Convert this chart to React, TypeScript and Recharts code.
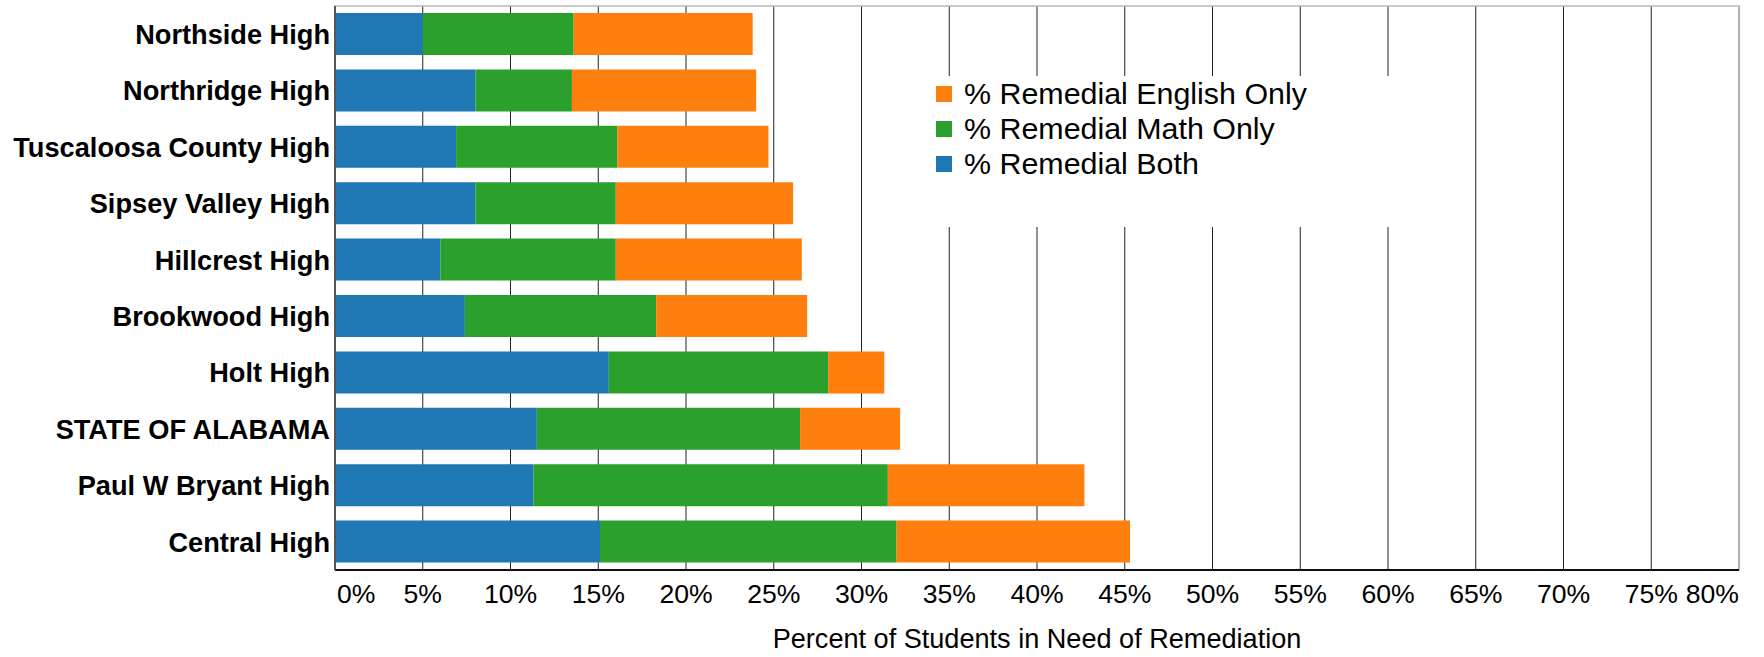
import React from "react";
import {
  BarChart,
  Bar,
  XAxis,
  YAxis,
  CartesianGrid,
  Legend,
  ReferenceArea,
  Label,
} from "recharts";

const schools = [
  "Northside High",
  "Northridge High",
  "Tuscaloosa County High",
  "Sipsey Valley High",
  "Hillcrest High",
  "Brookwood High",
  "Holt High",
  "STATE OF ALABAMA",
  "Paul W Bryant High",
  "Central High",
];
const bothVals = [5.0, 8.0, 6.9, 8.0, 6.0, 7.4, 15.6, 11.5, 11.3, 15.1];
const mathVals = [8.6, 5.5, 9.2, 8.0, 10.0, 10.9, 12.5, 15.0, 20.2, 16.9];
const englishVals = [10.2, 10.5, 8.6, 10.1, 10.6, 8.6, 3.2, 5.7, 11.2, 13.3];
const xTicks = [0, 5, 10, 15, 20, 25, 30, 35, 40, 45, 50, 55, 60, 65, 70, 75, 80];

const seriesNames = ["% Remedial Both", "% Remedial Math Only", "% Remedial English Only"];
const seriesColors = ["#1f77b4", "#2ca02c", "#ff7f0e"];
const legendOrder = ["% Remedial English Only", "% Remedial Math Only", "% Remedial Both"];

const data = schools.map((s, i) => ({
  school: s,
  both: bothVals[i],
  math: mathVals[i],
  english: englishVals[i],
}));

const FONT = "'Liberation Sans', Arial, Helvetica, sans-serif";

const XTick = (props: any) => {
  const { x, y, payload } = props;
  const v = payload.value;
  let anchor: "start" | "middle" | "end" = "middle";
  let dx = 0;
  if (v === xTicks[0]) {
    anchor = "start";
    dx = 2;
  } else if (v === xTicks[xTicks.length - 1]) {
    anchor = "end";
  }
  return (
    <text x={x + dx} y={y + 33} textAnchor={anchor} fontFamily={FONT} fontSize={26.6} fill="#000">
      {`${v}%`}
    </text>
  );
};

const YTick = (props: any) => {
  const { x, y, payload } = props;
  return (
    <text x={x - 5} y={y} dy="0.36em" textAnchor="end" fontFamily={FONT} fontSize={27.2} fontWeight="bold" fill="#000">
      {payload.value}
    </text>
  );
};

const LegendContent = (props: any) => {
  const payload = (props.payload || [])
    .slice()
    .sort((a: any, b: any) => legendOrder.indexOf(a.value) - legendOrder.indexOf(b.value));
  return (
    <div
      style={{
        background: "#fff",
        width: 500,
        height: 151,
        boxSizing: "border-box",
        paddingTop: 0,
        paddingLeft: 16,
        fontFamily: FONT,
      }}
    >
      {payload.map((p: any) => (
        <div key={p.value} style={{ display: "flex", alignItems: "center", height: 35 }}>
          <span style={{ display: "inline-block", width: 16, height: 16, background: p.color, marginRight: 12 }} />
          <span style={{ fontSize: 30.4, color: "#000", lineHeight: "35px" }}>{p.value}</span>
        </div>
      ))}
    </div>
  );
};

export default function App() {
  return (
    <div style={{ position: "absolute", left: 0, top: 0, background: "#fff" }}>
      <BarChart
        width={1764}
        height={657}
        data={data}
        layout="vertical"
        margin={{ top: 6, right: 25, left: 0, bottom: 0 }}
        barCategoryGap="12.4%"
      >
        <CartesianGrid horizontal={false} vertical={true} stroke="#222" strokeWidth={1} />
        <XAxis
          type="number"
          domain={[0, 80]}
          ticks={xTicks}
          interval={0}
          height={87}
          tickSize={0}
          tickMargin={0}
          tickLine={false}
          axisLine={{ stroke: "#111", strokeWidth: 2 }}
          tick={<XTick />}
        >
          <Label
            value="Percent of Students in Need of Remediation"
            position="insideBottom"
            offset={9}
            style={{ fontFamily: FONT, fontSize: 27.1, fill: "#000" }}
          />
        </XAxis>
        <YAxis
          type="category"
          dataKey="school"
          width={335}
          tickSize={0}
          tickMargin={0}
          tickLine={false}
          interval={0}
          axisLine={{ stroke: "#555", strokeWidth: 2 }}
          tick={<YTick />}
        />
        <ReferenceArea x1={0} x2={80} fill="none" stroke="#bbb" strokeWidth={1.5} ifOverflow="visible" />
        <Bar dataKey="both" name={seriesNames[0]} stackId="a" fill={seriesColors[0]} isAnimationActive={false} />
        <Bar dataKey="math" name={seriesNames[1]} stackId="a" fill={seriesColors[1]} isAnimationActive={false} />
        <Bar dataKey="english" name={seriesNames[2]} stackId="a" fill={seriesColors[2]} isAnimationActive={false} />
        <Legend
          layout="vertical"
          align="center"
          verticalAlign="middle"
          wrapperStyle={{ left: 920, top: 76, width: 500, height: 151 }}
          content={<LegendContent />}
        />
      </BarChart>
    </div>
  );
}
